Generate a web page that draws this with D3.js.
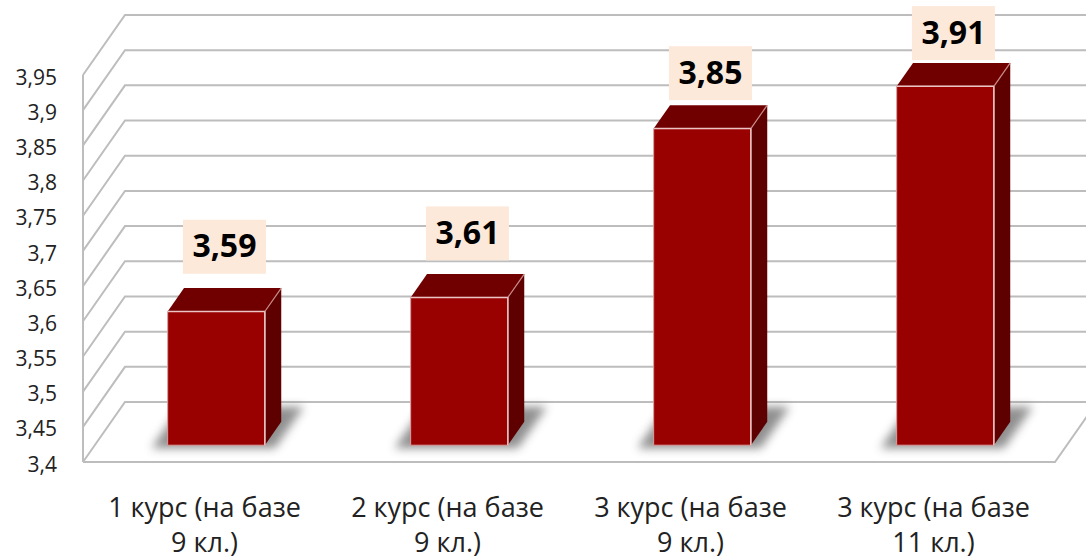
<!DOCTYPE html>
<html>
<head>
<meta charset="utf-8">
<script src="https://cdn.jsdelivr.net/npm/d3@7"></script>
<style>
  body { margin: 0; background: #fff; }
  svg { display: block; }
  text { font-family: "Open Sans", "Noto Sans", sans-serif; }
</style>
</head>
<body>
<div id="chart"></div>
<script>
// data
var categories = ["1 курс (на базе 9 кл.)", "2 курс (на базе 9 кл.)", "3 курс (на базе 9 кл.)", "3 курс (на базе 11 кл.)"];
var categoryLines = [["1 курс (на базе", "9 кл.)"], ["2 курс (на базе", "9 кл.)"], ["3 курс (на базе", "9 кл.)"], ["3 курс (на базе", "11 кл.)"]];
var values = [3.59, 3.61, 3.85, 3.91];
var valueLabels = ["3,59", "3,61", "3,85", "3,91"];
var yTicks = [3.4, 3.45, 3.5, 3.55, 3.6, 3.65, 3.7, 3.75, 3.8, 3.85, 3.9, 3.95];

var W = 1086, H = 558;
// 3d layout: front plane + depth vector
var x0 = 83, x1 = 1055;
var depthX = 42, depthY = -60;
var barFront = 0.28, barBack = 0.67;

let y = d3.scaleLinear().domain([3.4, 3.95]).range([462, 75]);
let x = d3.scaleBand().domain(categories).range([x0, x1]).paddingInner(0.6).paddingOuter(0.3);

// project a point on the front plane back to depth f
let P = (px, v, f) => [px + f * depthX, y(v) + f * depthY];

let svg = d3.select("#chart").append("svg").attr("width", W).attr("height", H);

let defs = svg.append("defs");
defs.append("filter").attr("id", "blur").attr("x", "-50%").attr("y", "-50%").attr("width", "200%").attr("height", "200%")
    .append("feGaussianBlur").attr("stdDeviation", 5);

// walls / grid
let grid = svg.append("g").attr("fill", "none").attr("stroke", "#bdbdbd").attr("stroke-width", 2);

yTicks.forEach((t) => {
    let a = P(x0, t, 0), b = P(x0, t, 1), c = P(x1 + 200, t, 1);
    grid.append("polyline").attr("points", [a, b, c].map((p) => p.join(",")).join(" "));
});
// front-left vertical edge
grid.append("line")
    .attr("x1", x0).attr("x2", x0)
    .attr("y1", y(3.4)).attr("y2", y(3.95));
// floor front edge + right edge
grid.append("polyline")
    .attr("points", [P(x1, 3.4, 1), P(x1, 3.4, 0), P(x0, 3.4, 0)].map((p) => p.join(",")).join(" "));

// y labels
svg.append("g").selectAll("text")
    .data(yTicks).enter().append("text")
    .attr("x", 57)
    .attr("y", (d) => y(d) + 4)
    .attr("text-anchor", "end")
    .attr("dominant-baseline", "middle")
    .attr("font-size", 21)
    .attr("fill", "#222")
    .text((d) => String(d).replace(".", ","));

let bars = svg.append("g");
let pts = (arr) => arr.map((p) => p.join(",")).join(" ");

values.forEach((v, i) => {
    let L = x(categories[i]), R = L + x.bandwidth();
    let g = bars.append("g");

    // shadow on the floor
    g.append("polygon")
        .attr("points", pts([P(L - 14, 3.4, barFront - 0.05), P(R + 12, 3.4, barFront - 0.05), P(R + 12, 3.4, barBack + 0.25), P(L - 14, 3.4, barBack + 0.25)]))
        .attr("fill", "#6a6a6a")
        .attr("opacity", 0.75)
        .attr("filter", "url(#blur)");

    // top
    g.append("polygon")
        .attr("points", pts([P(L, v, barFront), P(R, v, barFront), P(R, v, barBack), P(L, v, barBack)]))
        .attr("fill", "#700000");
    // side
    g.append("polygon")
        .attr("points", pts([P(R, v, barFront), P(R, v, barBack), P(R, 3.4, barBack), P(R, 3.4, barFront)]))
        .attr("fill", "#5e0000");
    // front
    g.append("polygon")
        .attr("points", pts([P(L, v, barFront), P(R, v, barFront), P(R, 3.4, barFront), P(L, 3.4, barFront)]))
        .attr("fill", "#990000")
        .attr("stroke", "#d9a0a0")
        .attr("stroke-width", 1);
    // highlight edges
    g.append("polyline")
        .attr("points", pts([P(L, v, barFront), P(R, v, barFront), P(R, 3.4, barFront)]))
        .attr("fill", "none")
        .attr("stroke", "#ecc4c4")
        .attr("stroke-width", 1.5);
    g.append("line")
        .attr("x1", P(R, v, barFront)[0]).attr("y1", P(R, v, barFront)[1])
        .attr("x2", P(R, v, barBack)[0]).attr("y2", P(R, v, barBack)[1])
        .attr("stroke", "#c98a8a").attr("stroke-width", 1.2);

    // value label
    let mid = (barFront + barBack) / 2;
    let cx = P((L + R) / 2, v, mid)[0];
    let topBack = P(L, v, barBack)[1];
    let gap = Math.max(1, 14 - 36 * (v - 3.6));
    let bw = 83, bh = 54;
    g.append("rect")
        .attr("x", cx - bw / 2).attr("y", topBack - gap - bh)
        .attr("width", bw).attr("height", bh)
        .attr("fill", "#fde9d9");
    g.append("text")
        .attr("x", cx).attr("y", topBack - gap - bh / 2 + 2)
        .attr("text-anchor", "middle")
        .attr("dominant-baseline", "middle")
        .attr("font-size", 32)
        .attr("font-weight", "bold")
        .attr("fill", "#000")
        .text(valueLabels[i]);
});

// category labels
let cat = svg.append("g");
categoryLines.forEach((lines, i) => {
    let cx = x(categories[i]) + x.bandwidth() / 2;
    lines.forEach((s, j) => {
        cat.append("text")
            .attr("x", cx)
            .attr("y", 517 + j * 35)
            .attr("text-anchor", "middle")
            .attr("font-size", 27)
            .attr("fill", "#222")
            .text(s);
    });
});
</script>
</body>
</html>
